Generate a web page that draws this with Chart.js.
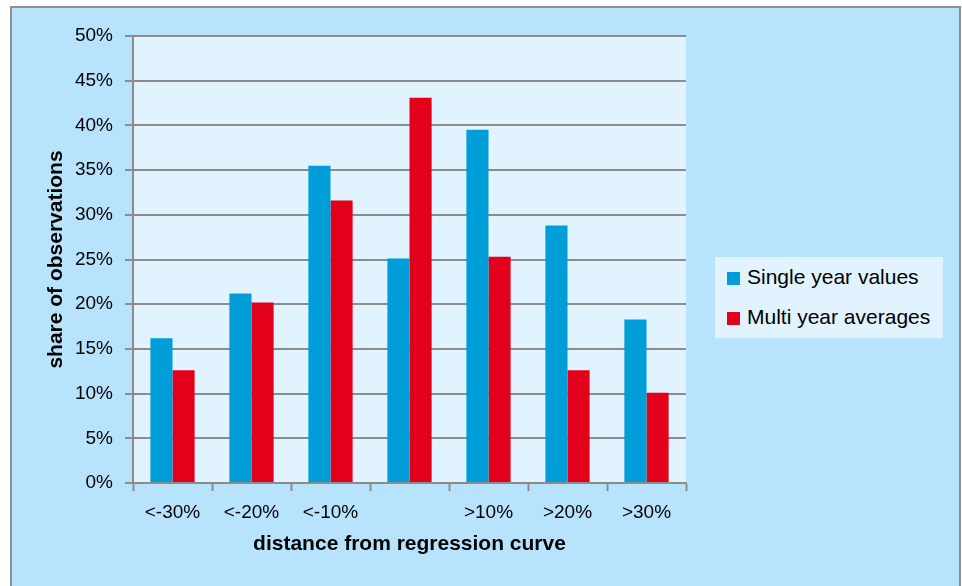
<!DOCTYPE html>
<html>
<head>
<meta charset="utf-8">
<script src="https://cdn.jsdelivr.net/npm/chart.js@4/dist/chart.umd.min.js"></script>
<style>
  html, body { margin: 0; padding: 0; background: #ffffff; }
  #wrap { position: relative; width: 962px; height: 586px; overflow: hidden; }
  #frame {
    position: absolute; left: 10px; top: 6px; width: 951px; height: 600px;
    box-sizing: border-box; border: 2px solid #8f8f8f; background: #b8e3fd;
  }
  #chart { position: absolute; left: 0; top: 0; }
  #legend {
    position: absolute; left: 715px; top: 257px; width: 228px; height: 81px;
    background: #e1f3fe; font: 21px "Liberation Sans", sans-serif; color: #000;
  }
  #legend .item { position: absolute; left: 12px; white-space: nowrap; line-height: 24px; }
  #legend .sw { display: inline-block; width: 13px; height: 13px; margin-right: 7px; vertical-align: -1px; }
</style>
</head>
<body>
<div id="wrap">
  <div id="frame"></div>
  <canvas id="chart" width="962" height="586"></canvas>
  <div id="legend"></div>
</div>
<script>
// Distance bands around the regression curve
const categories = ['<-30%', '<-20%', '<-10%', '', '>10%', '>20%', '>30%'];
// Share of observations (%) per band
const singleYearValues = [16.2, 21.2, 35.5, 25.1, 39.5, 28.8, 18.3];
const multiYearAverages = [12.6, 20.2, 31.6, 43.1, 25.3, 12.6, 10.1];
const seriesNames = ['Single year values', 'Multi year averages'];
const seriesColors = ['#009ed9', '#e3001b'];

const gridGray = '#8c8c8c';

// Light fill behind the plotting area
const plotBackground = {
  id: 'plotBackground',
  beforeDraw(chart) {
    const { ctx, chartArea: a } = chart;
    ctx.save();
    ctx.fillStyle = '#e1f3fe';
    ctx.fillRect(a.left, a.top, a.right - a.left, a.bottom - a.top);
    ctx.restore();
  }
};

const chart = new Chart(document.getElementById('chart'), {
  type: 'bar',
  data: {
    labels: categories,
    datasets: [
      { label: seriesNames[0], data: singleYearValues, backgroundColor: seriesColors[0] },
      { label: seriesNames[1], data: multiYearAverages, backgroundColor: seriesColors[1] }
    ]
  },
  options: {
    responsive: false,
    animation: false,
    devicePixelRatio: 1,
    layout: { padding: { left: 0, top: 36, right: 276, bottom: 0 } },
    datasets: { bar: { categoryPercentage: 0.56, barPercentage: 1.0 } },
    plugins: {
      legend: { display: false },
      tooltip: { enabled: false }
    },
    scales: {
      x: {
        afterFit(scale) { scale.height = 103; },
        grid: {
          offset: true,
          drawOnChartArea: false,
          drawTicks: true,
          tickLength: 8,
          tickWidth: 2,
          tickColor: gridGray
        },
        border: { display: true, color: gridGray, width: 2 },
        ticks: {
          color: '#000',
          padding: 10,
          maxRotation: 0,
          font: { family: 'Liberation Sans', size: 19 }
        },
        title: {
          display: true,
          text: 'distance from regression curve',
          color: '#000',
          font: { family: 'Liberation Sans', size: 21, weight: 'bold' },
          padding: { top: 0, bottom: 29 }
        }
      },
      y: {
        min: 0,
        max: 50,
        afterFit(scale) { scale.width = 133; },
        grid: {
          color: gridGray,
          lineWidth: 2,
          drawTicks: true,
          tickLength: 8
        },
        border: { display: true, color: gridGray, width: 2 },
        ticks: {
          stepSize: 5,
          color: '#000',
          padding: 12,
          font: { family: 'Liberation Sans', size: 19 },
          callback: (v) => v + '%'
        },
        title: {
          display: true,
          text: 'share of observations',
          color: '#000',
          font: { family: 'Liberation Sans', size: 21, weight: 'bold' },
          padding: { top: 44, bottom: 0 }
        }
      }
    }
  },
  plugins: [plotBackground]
});

// Legend built from the chart's own datasets
const legendEl = document.getElementById('legend');
chart.data.datasets.forEach((ds, i) => {
  const item = document.createElement('div');
  item.className = 'item';
  item.style.top = (8 + i * 40) + 'px';
  const sw = document.createElement('span');
  sw.className = 'sw';
  sw.style.background = ds.backgroundColor;
  item.appendChild(sw);
  item.appendChild(document.createTextNode(ds.label));
  legendEl.appendChild(item);
});
</script>
</body>
</html>
